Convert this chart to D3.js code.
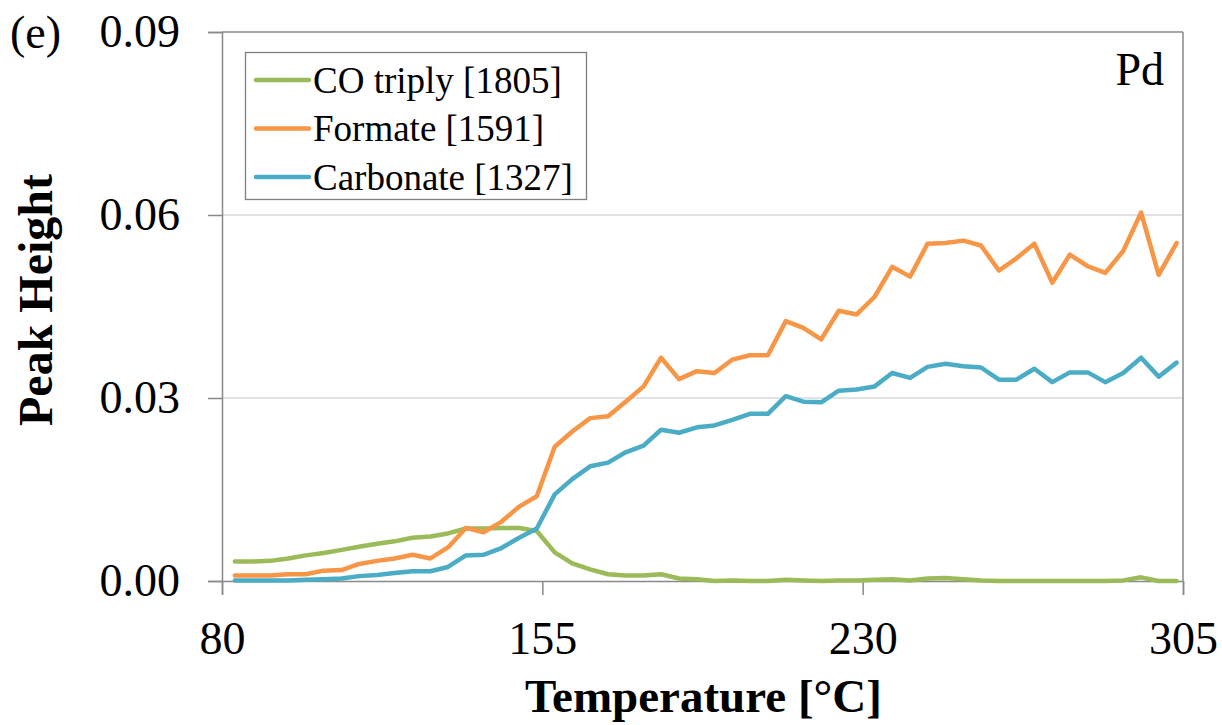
<!DOCTYPE html>
<html>
<head>
<meta charset="utf-8">
<script src="https://cdn.jsdelivr.net/npm/d3@7"></script>
<style>
  html, body { margin: 0; padding: 0; background: #fff; }
  svg { display: block; }
  svg text { font-family: "Liberation Serif", "Times New Roman", serif !important; fill: #000; }
</style>
</head>
<body>
<svg id="chart" width="1222" height="725"></svg>
<script>
const temperatures = [83.0, 87.2, 91.3, 95.5, 99.6, 103.8, 108.0, 112.1, 116.3, 120.4,
  124.6, 128.8, 132.9, 137.1, 141.2, 145.4, 149.6, 153.7, 157.9, 162.0,
  166.2, 170.4, 174.5, 178.7, 182.8, 187.0, 191.2, 195.3, 199.5, 203.6,
  207.8, 212.0, 216.1, 220.3, 224.4, 228.6, 232.8, 236.9, 241.1, 245.2,
  249.4, 253.6, 257.7, 261.9, 266.0, 270.2, 274.4, 278.5, 282.7, 286.8,
  291.0, 295.2, 299.3, 303.5];

const coTriply = [0.0032, 0.0032, 0.0033, 0.0037, 0.0042, 0.0046, 0.0051, 0.0056, 0.0061, 0.0065,
  0.0071, 0.0073, 0.0078, 0.0086, 0.0086, 0.0087, 0.0087, 0.0082, 0.0047, 0.0029,
  0.0019, 0.0011, 0.0009, 0.0009, 0.0011, 0.0004, 0.0003, 0.0000, 0.0001, 0.0000,
  0.0000, 0.0002, 0.0001, 0.0000, 0.0001, 0.0001, 0.0002, 0.0003, 0.0001, 0.0004,
  0.0005, 0.0003, 0.0001, 0.0000, 0.0000, 0.0000, 0.0000, 0.0000, 0.0000, 0.0000,
  0.0001, 0.0006, 0.0000, 0.0000];

const formate = [0.0009, 0.0009, 0.0009, 0.0011, 0.0011, 0.0017, 0.0018, 0.0028, 0.0033, 0.0037,
  0.0043, 0.0037, 0.0055, 0.0087, 0.0080, 0.0097, 0.0122, 0.0139, 0.0220, 0.0245,
  0.0267, 0.0270, 0.0294, 0.0319, 0.0366, 0.0331, 0.0344, 0.0341, 0.0363, 0.0370,
  0.0370, 0.0426, 0.0415, 0.0396, 0.0443, 0.0437, 0.0466, 0.0515, 0.0499, 0.0553,
  0.0554, 0.0558, 0.0550, 0.0509, 0.0529, 0.0553, 0.0489, 0.0535, 0.0516, 0.0505,
  0.0541, 0.0604, 0.0502, 0.0554];

const carbonate = [0.0001, 0.0001, 0.0001, 0.0001, 0.0002, 0.0003, 0.0004, 0.0008, 0.0010, 0.0013,
  0.0016, 0.0016, 0.0023, 0.0042, 0.0043, 0.0054, 0.0071, 0.0086, 0.0142, 0.0167,
  0.0188, 0.0194, 0.0211, 0.0222, 0.0248, 0.0243, 0.0252, 0.0255, 0.0264, 0.0274,
  0.0274, 0.0303, 0.0294, 0.0293, 0.0312, 0.0314, 0.0319, 0.0341, 0.0333, 0.0351,
  0.0356, 0.0352, 0.0350, 0.0330, 0.0330, 0.0348, 0.0326, 0.0342, 0.0342, 0.0326,
  0.0341, 0.0366, 0.0335, 0.0358];

const seriesNames = ["CO triply [1805]", "Formate [1591]", "Carbonate [1327]"];
const seriesColors = ["#9BBB59", "#F79646", "#4BACC6"];
const xTicks = [80, 155, 230, 305];
const yTicks = [0, 0.03, 0.06, 0.09];

const series = [coTriply, formate, carbonate];

const FONT = "'Liberation Serif', 'Times New Roman', serif";
const svg = d3.select("#chart");
const L = 222, R = 1183, T = 32, B = 581;

const x = d3.scaleLinear().domain([80, 305]).range([L, R]);
const y = d3.scaleLinear().domain([0, 0.09]).range([B, T]);

const axisColor = "#898989";

// gridlines
svg.append("g").selectAll("line")
  .data(yTicks.filter(v => v > 0 && v < 0.09))
  .join("line")
  .attr("x1", L).attr("x2", R)
  .attr("y1", d => y(d)).attr("y2", d => y(d))
  .attr("stroke", "#d9d9d9").attr("stroke-width", 1.5);

// plot frame top and right
svg.append("line").attr("x1", L).attr("x2", R).attr("y1", T).attr("y2", T)
  .attr("stroke", axisColor).attr("stroke-width", 1.5);
svg.append("line").attr("x1", R).attr("x2", R).attr("y1", T).attr("y2", B)
  .attr("stroke", axisColor).attr("stroke-width", 1.5);

// y axis
const yAxis = d3.axisLeft(y).tickValues(yTicks).tickFormat(d3.format(".2f"))
  .tickSize(14).tickPadding(28);
const gy = svg.append("g").attr("transform", `translate(${L},0)`).call(yAxis)
  .attr("font-family", null);
gy.select(".domain").attr("stroke", axisColor).attr("stroke-width", 1.5);
gy.selectAll(".tick line").attr("stroke", axisColor).attr("stroke-width", 1.5);
gy.selectAll(".tick text")
  .style("font-family", FONT)
  .attr("font-size", 46).attr("fill", "#000");

// x axis
const xAxis = d3.axisBottom(x).tickValues(xTicks).tickFormat(d3.format("d"))
  .tickSize(14).tickPadding(26);
const gx = svg.append("g").attr("transform", `translate(0,${B})`).call(xAxis)
  .attr("font-family", null);
gx.select(".domain").attr("stroke", axisColor).attr("stroke-width", 1.5);
gx.selectAll(".tick line").attr("stroke", axisColor).attr("stroke-width", 1.5);
gx.selectAll(".tick text")
  .style("font-family", FONT)
  .attr("font-size", 46).attr("fill", "#000");

// lines
const line = d3.line()
  .x((d, i) => x(temperatures[i]))
  .y(d => y(d));

svg.append("g").selectAll("path")
  .data(series)
  .join("path")
  .attr("d", d => line(d))
  .attr("fill", "none")
  .attr("stroke", (d, i) => seriesColors[i])
  .attr("stroke-width", 4.5)
  .attr("stroke-linejoin", "round")
  .attr("stroke-linecap", "round");

// legend
const lg = svg.append("g");
lg.append("rect").attr("x", 245.5).attr("y", 52.5).attr("width", 341).attr("height", 147)
  .attr("fill", "#fff").attr("stroke", "#7f7f7f").attr("stroke-width", 1.3);
const rows = lg.selectAll("g.row").data(seriesNames).join("g")
  .attr("class", "row")
  .attr("transform", (d, i) => `translate(0,${80 + i * 48.5})`);
rows.append("line").attr("x1", 256).attr("x2", 309).attr("y1", 0).attr("y2", 0)
  .attr("stroke", (d, i) => seriesColors[i]).attr("stroke-width", 4.5)
  .attr("stroke-linecap", "round");
rows.append("text").attr("x", 313).attr("y", 0).attr("dy", "0.34em")
  .style("font-family", FONT)
  .attr("font-size", 37).text(d => d);

// Pd label
svg.append("text").attr("x", 1164).attr("y", 85).attr("text-anchor", "end")
  .style("font-family", FONT)
  .attr("font-size", 46).text("Pd");

// (e) label
svg.append("text").attr("x", 10).attr("y", 48)
  .style("font-family", FONT)
  .attr("font-size", 46).text("(e)");

// axis titles
svg.append("text").attr("x", (L + R) / 2 + 1).attr("y", 712).attr("text-anchor", "middle")
  .style("font-family", FONT)
  .attr("font-size", 47).attr("font-weight", "bold").text("Temperature [°C]");
svg.append("text")
  .attr("transform", "translate(52,300) rotate(-90)")
  .attr("text-anchor", "middle")
  .style("font-family", FONT)
  .attr("font-size", 48).attr("font-weight", "bold").text("Peak Height");
</script>
</body>
</html>
